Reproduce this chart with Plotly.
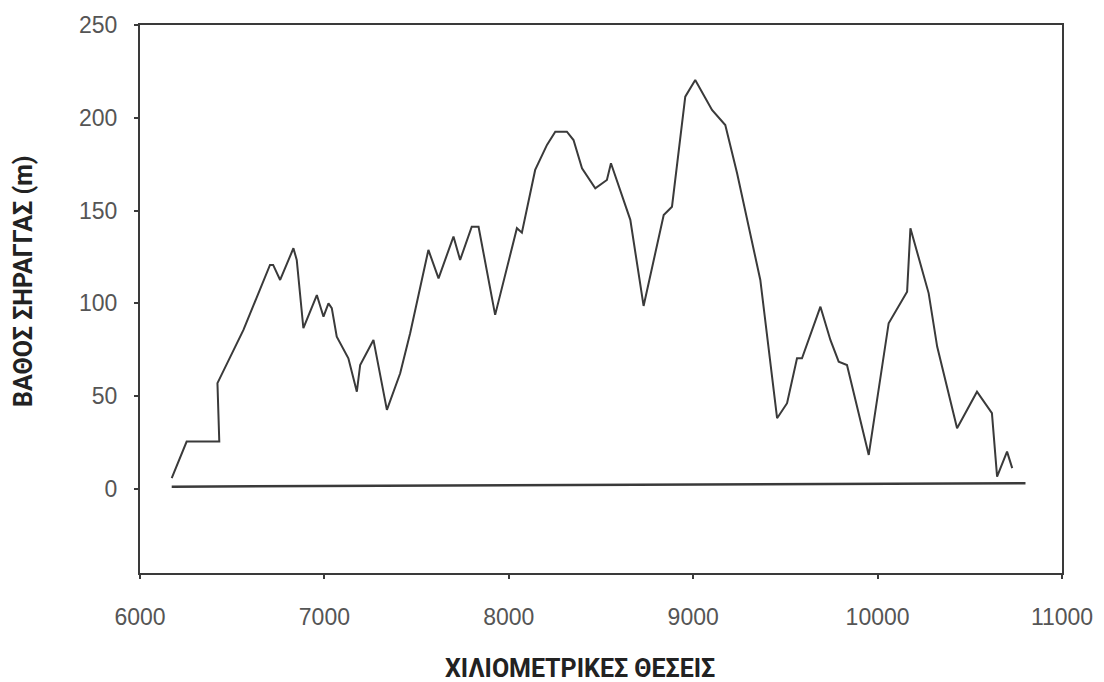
import plotly.graph_objects as go

# Tunnel depth profile
chainage = [6172, 6253, 6430, 6420, 6561, 6705, 6722, 6760, 6832, 6850, 6886,
            6959, 6995, 7022, 7040, 7067, 7130, 7176, 7194, 7266, 7339, 7411,
            7465, 7564, 7619, 7700, 7736, 7799, 7836, 7926, 8044, 8071, 8143,
            8207, 8252, 8315, 8351, 8397, 8469, 8532, 8554, 8659, 8731, 8840,
            8885, 8957, 9011, 9102, 9174, 9238, 9364, 9455, 9509, 9563, 9590,
            9690, 9744, 9789, 9834, 9952, 10060, 10160, 10178, 10277, 10323,
            10431, 10539, 10620, 10648, 10702, 10730]
depth = [5.8, 25.5, 25.5, 57, 85.7, 120.7, 120.7, 112.6, 129.7, 123.4, 86.6,
         104.5, 92.8, 100, 97.4, 82, 70.4, 52.4, 66.8, 80.3, 42.6, 62.3,
         83.9, 128.8, 113.5, 136, 123.4, 141.3, 141.3, 93.8, 140.5, 138.1, 171.9,
         185.4, 192.5, 192.5, 188, 172.8, 162, 166.5, 175.5, 145, 98.6, 147.6,
         152.1, 211.4, 220.4, 204.2, 196.1, 170.1, 112.6, 38.1, 46.2, 70.4, 70.4,
         98.2, 80.3, 68.6, 66.8, 18.3, 89.3, 106.3, 140.5, 105.4, 76.7,
         32.7, 52.4, 40.8, 6.6, 20.1, 11.2]

# Tunnel axis (reference line near zero)
baseline_x = [6172, 10802]
baseline_y = [1.2, 3.1]

x_ticks = [6000, 7000, 8000, 9000, 10000, 11000]
y_ticks = [0, 50, 100, 150, 200, 250]

x_title = "ΧΙΛΙΟΜΕΤΡΙΚΕΣ ΘΕΣΕΙΣ"
y_title = "ΒΑΘΟΣ ΣΗΡΑΓΓΑΣ (m)"

line_color = "#3a3a3a"
tick_font = dict(family="Liberation Sans, Arial, sans-serif", size=23, color="#555555")
title_font = dict(family="Roboto, Arial, sans-serif", size=25, color="#222222")

fig = go.Figure()
fig.add_trace(go.Scatter(x=chainage, y=depth, mode="lines",
                         line=dict(color=line_color, width=2), showlegend=False,
                         hoverinfo="x+y"))
fig.add_trace(go.Scatter(x=baseline_x, y=baseline_y, mode="lines",
                         line=dict(color=line_color, width=2.5), showlegend=False,
                         hoverinfo="skip"))

fig.update_layout(
    width=1104, height=682,
    margin=dict(l=140, r=42, t=25, b=109),
    paper_bgcolor="white", plot_bgcolor="white",
    xaxis=dict(range=[6000, 11000], tickvals=x_ticks, ticktext=[str(v) for v in x_ticks],
               showgrid=False, zeroline=False, showline=True, linecolor=line_color,
               linewidth=2, mirror=True, ticks="outside", ticklen=4, tickwidth=2,
               tickcolor=line_color, tickfont=tick_font, ticklabelstandoff=18),
    yaxis=dict(range=[-45.3, 250], tickvals=y_ticks, ticktext=[str(v) for v in y_ticks],
               showgrid=False, zeroline=False, showline=True, linecolor=line_color,
               linewidth=2, mirror=True, ticks="outside", ticklen=4, tickwidth=2,
               tickcolor=line_color, tickfont=tick_font, ticklabelstandoff=12),
    annotations=[
        dict(text="<b>%s</b>" % x_title, xref="paper", yref="paper",
             x=(580 - 140) / 922, y=-(668 - 573) / 548, xanchor="center", yanchor="middle",
             showarrow=False, font=title_font),
        dict(text="<b>%s</b>" % y_title, xref="paper", yref="paper",
             x=-(140 - 23) / 922, y=(573 - 281) / 548, xanchor="center", yanchor="middle",
             textangle=-90, showarrow=False, font=title_font),
    ],
)

fig.write_html("out.html", config={"displayModeBar": False},
               post_script="document.body.style.margin='0';")
